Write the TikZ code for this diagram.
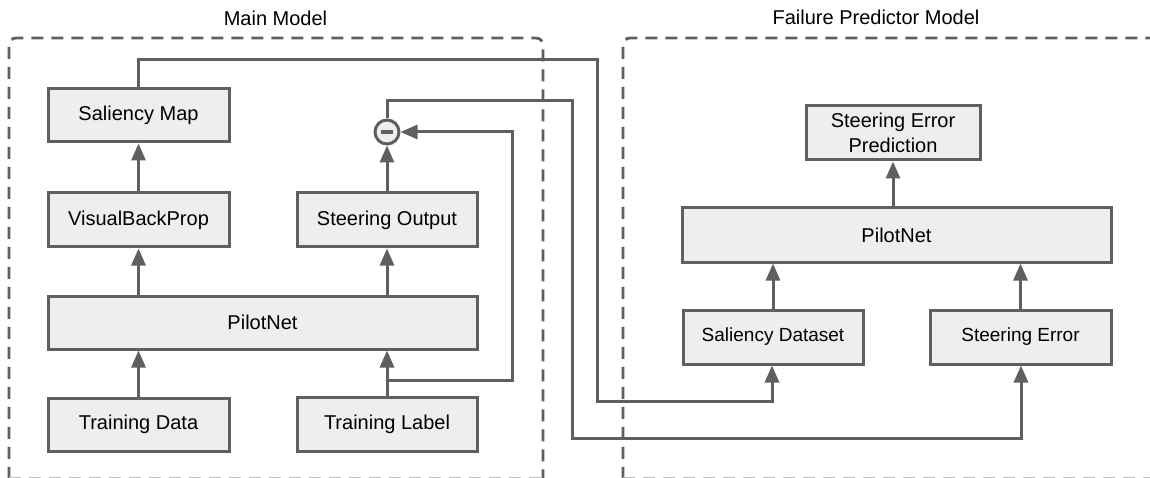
\documentclass[tikz,border=0pt]{standalone}
\usepackage{fontspec}
\setmainfont{Liberation Sans}
\usetikzlibrary{arrows.meta}
\definecolor{lc}{HTML}{5F5F5F}
\definecolor{bf}{HTML}{EEEEEE}
\begin{document}
\begin{tikzpicture}[x=1pt,y=-1pt,
  blk/.style={draw=lc,fill=bf,line width=3pt,inner sep=0pt,
    font=\fontsize{20}{24}\selectfont,text=black},
  blks/.style={blk,font=\fontsize{19}{24}\selectfont},
  conn/.style={draw=lc,line width=3pt},
  arr/.style={conn,-{Triangle[length=17pt,width=14pt]}},
  grp/.style={draw=lc,line width=2.8pt,dash pattern=on 12pt off 8pt,rounded corners=7pt},
  ttl/.style={font=\fontsize{20}{24}\selectfont,text=black}
]
\useasboundingbox (0,0) rectangle (1150,478);
% group frames
\draw[grp] (9,478.8) -- (9,38) -- (543,38) -- (543,478.8);
\draw[grp] (623,478.8) -- (623,38) -- (1175,38);
\draw[grp,draw=lc!40] (9,478.5) -- (543,478.5);
\draw[grp,draw=lc!40] (623,478.5) -- (1160,478.5);
\node[ttl] (t1) at (275.5,18) {Main Model};
\node[ttl] (t2) at (876,17) {Failure Predictor Model};
% main model
\node[blk,minimum width=181pt,minimum height=53pt] (salmap) at (138.5,115.5) {Saliency Map};
\node[blk,minimum width=181pt,minimum height=54pt] (vbp) at (138.5,220) {VisualBackProp};
\node[blk,minimum width=180pt,minimum height=54pt] (sout) at (387,220) {Steering Output};
\node[blk,minimum width=429pt,minimum height=53pt] (pn1) at (262.5,322.5) {PilotNet};
\node[blk,minimum width=181pt,minimum height=53pt] (tdata) at (138.5,424.5) {Training Data};
\node[blk,minimum width=180pt,minimum height=54pt] (tlabel) at (387,424) {Training Label};
\node[circle,draw=lc,fill=bf,line width=3pt,minimum size=24pt,inner sep=0pt] (minus) at (387,132) {};
\draw[lc,line width=3.5pt] ([xshift=-6pt]minus.center) -- ([xshift=6pt]minus.center);
% failure predictor
\node[blk,align=center,minimum width=174pt,minimum height=54pt,
  font=\fontsize{20}{25}\selectfont] (sep) at (893,133) {Steering Error\\Prediction};
\node[blk,minimum width=429pt,minimum height=54pt] (pn2) at (896.5,235) {PilotNet};
\node[blks,minimum width=180pt,minimum height=54pt] (sdata) at (773,337) {Saliency Dataset};
\node[blks,minimum width=181pt,minimum height=54pt] (serr) at (1020.5,337) {Steering Error};
% arrows main
\draw[arr] (vbp.north) -- (salmap.south);
\draw[arr] (pn1.north -| vbp) -- (vbp.south);
\draw[arr] (pn1.north -| sout) -- (sout.south);
\draw[arr] (sout.north) -- (minus.south);
\draw[arr] (tdata.north) -- (pn1.south -| tdata);
\draw[arr] (tlabel.north) -- (pn1.south -| tlabel);
\coordinate (br) at (387,380);
\draw[arr] (br) -- (512,380) -- (512,132) -- (minus.east);
% arrows failure predictor
\draw[arr] (pn2.north -| sep) -- (sep.south);
\draw[arr] (sdata.north) -- (pn2.south -| sdata);
\draw[arr] (serr.north) -- (pn2.south -| serr);
% cross links
\draw[arr] (salmap.north) -- (138.5,60) -- (597,60) -- (597,401) -- (772,401) -- (sdata.south -| 772,0);
\draw[arr] (minus.north) -- (387,101) -- (572,101) -- (572,438) -- (1021,438) -- (serr.south -| 1021,0);
\end{tikzpicture}
\end{document}
